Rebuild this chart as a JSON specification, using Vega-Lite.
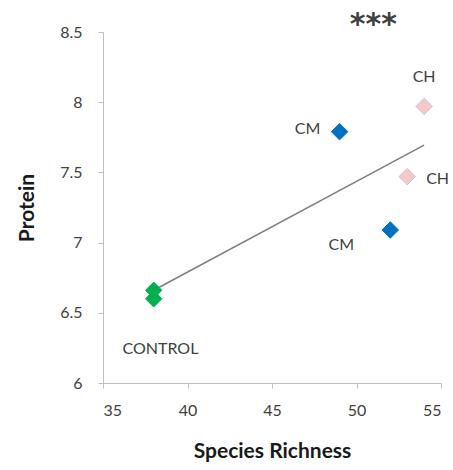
{
  "$schema": "https://vega.github.io/schema/vega-lite/v6.json",
  "width": 338,
  "height": 351,
  "autosize": {"type": "none"},
  "padding": {"left": 103, "top": 32, "right": 12, "bottom": 87},
  "background": "white",
  "config": {
    "view": {"stroke": null},
    "font": "Lato",
    "axis": {
      "grid": false,
      "domainColor": "#BFBFBF",
      "tickColor": "#BFBFBF",
      "tickSize": 5,
      "labelFont": "Lato",
      "labelFontSize": 16,
      "labelColor": "#404040",
      "titleFont": "Lato",
      "titleFontSize": 21,
      "titleFontWeight": "bold",
      "titleColor": "#1a1a1a"
    }
  },
  "datasets": {
    "pts": [
      {"richness": 38, "protein": 6.66, "group": "CONTROL"},
      {"richness": 38, "protein": 6.60, "group": "CONTROL"},
      {"richness": 49, "protein": 7.79, "group": "CM"},
      {"richness": 52, "protein": 7.09, "group": "CM"},
      {"richness": 53, "protein": 7.47, "group": "CH"},
      {"richness": 54, "protein": 7.97, "group": "CH"}
    ],
    "labels": [
      {"richness": 47.1, "protein": 7.81, "text": "CM"},
      {"richness": 54.0, "protein": 8.18, "text": "CH"},
      {"richness": 54.8, "protein": 7.45, "text": "CH"},
      {"richness": 49.1, "protein": 6.98, "text": "CM"},
      {"richness": 38.4, "protein": 6.24, "text": "CONTROL"}
    ],
    "stars": [
      {"richness": 51.0, "protein": 8.55, "text": "***"}
    ]
  },
  "layer": [
    {
      "data": {"name": "pts"},
      "transform": [{"regression": "protein", "on": "richness"}],
      "mark": {"type": "line", "color": "#7F7F7F", "strokeWidth": 1.5},
      "encoding": {
        "x": {"field": "richness", "type": "quantitative"},
        "y": {"field": "protein", "type": "quantitative"}
      }
    },
    {
      "data": {"name": "pts"},
      "mark": {"type": "point", "shape": "diamond", "filled": true, "size": 270, "opacity": 1, "strokeWidth": 1},
      "encoding": {
        "x": {
          "field": "richness", "type": "quantitative",
          "scale": {"domain": [35, 55], "nice": false, "zero": false},
          "axis": {"values": [35, 40, 45, 50, 55], "title": "Species Richness", "labelPadding": 14, "titlePadding": 22}
        },
        "y": {
          "field": "protein", "type": "quantitative",
          "scale": {"domain": [6, 8.5], "nice": false, "zero": false},
          "axis": {"values": [6, 6.5, 7, 7.5, 8, 8.5], "format": "~g", "title": "Protein", "labelPadding": 16, "titlePadding": 22}
        },
        "fill": {
          "field": "group", "type": "nominal", "legend": null,
          "scale": {"domain": ["CONTROL", "CM", "CH"], "range": ["#00B050", "#0070C0", "#F8C8C8"]}
        },
        "stroke": {
          "field": "group", "type": "nominal", "legend": null,
          "scale": {"domain": ["CONTROL", "CM", "CH"], "range": ["#00B050", "#0070C0", "#C0C6E2"]}
        }
      }
    },
    {
      "data": {"name": "labels"},
      "mark": {"type": "text", "fontSize": 16, "color": "#404040", "font": "Lato", "baseline": "middle", "align": "center"},
      "encoding": {
        "x": {"field": "richness", "type": "quantitative"},
        "y": {"field": "protein", "type": "quantitative"},
        "text": {"field": "text"}
      }
    },
    {
      "data": {"name": "stars"},
      "mark": {"type": "text", "fontSize": 30, "fontWeight": "bold", "color": "#404040", "font": "DejaVu Sans", "baseline": "middle", "align": "center"},
      "encoding": {
        "x": {"field": "richness", "type": "quantitative"},
        "y": {"field": "protein", "type": "quantitative"},
        "text": {"field": "text"}
      }
    }
  ]
}
